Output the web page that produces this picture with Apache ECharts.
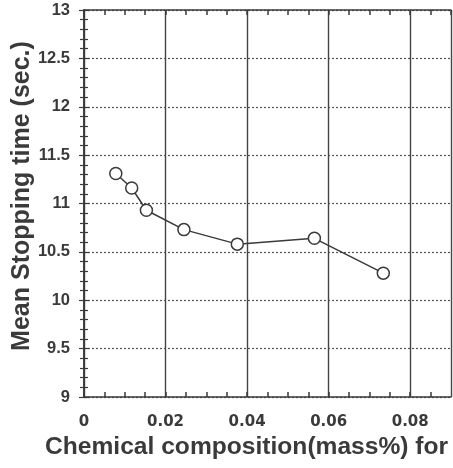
<!DOCTYPE html>
<html><head><meta charset="utf-8">
<script src="https://cdn.jsdelivr.net/npm/echarts@6/dist/echarts.min.js"></script>
<style>html,body{margin:0;padding:0;background:#fff}#c{width:453px;height:468px}</style>
</head><body><div id="c"></div>
<script>
const xValues = [0.0078, 0.0117, 0.0153, 0.0245, 0.0376, 0.0565, 0.0734];
const yValues = [11.31, 11.16, 10.93, 10.73, 10.58, 10.64, 10.28];
const xTickLabels = ['0', '0.02', '0.04', '0.06', '0.08'];
const yTickLabels = ['9', '9.5', '10', '10.5', '11', '11.5', '12', '12.5', '13'];
const xTitle = 'Chemical composition(mass%) for';
const yTitle = 'Mean Stopping time (sec.)';

const ink = '#3a3a3a';
const font = 'Liberation Sans, Arial, sans-serif';
function near(v, step){ return Math.abs(v/step - Math.round(v/step)) < 1e-6; }
function xLab(v){
  if (!near(v, 0.02)) return '';
  const i = Math.round(v/0.02);
  return xTickLabels[i] !== undefined ? xTickLabels[i] : '';
}
function yLab(v){
  if (!near(v, 0.5)) return '';
  const i = Math.round((v-9)/0.5);
  return yTickLabels[i] !== undefined ? yTickLabels[i] : '';
}
const chart = echarts.init(document.getElementById('c'), null, {renderer:'canvas'});
const fineX = {
  type:'value', min:0, max:0.09, interval:0.005,
  axisLine:{show:true, lineStyle:{color:ink, width:1.5}},
  axisTick:{show:true, inside:true, length:5, lineStyle:{color:ink, width:1.5}},
  splitLine:{show:false}
};
const yBase = {
  type:'value', min:9, max:13, interval:0.5,
  axisLine:{show:true, lineStyle:{color:ink, width:1.5}},
  axisTick:{show:true, inside:true, length:5, lineStyle:{color:ink, width:1.2}},
  minorTick:{show:true, splitNumber:5, length:4, lineStyle:{color:ink, width:1.2}}
};
chart.setOption({
  animation:false,
  grid:{left:84, right:2, top:10, bottom:71, containLabel:false},
  xAxis:[
    Object.assign({}, fineX, {position:'bottom',
      axisLabel:{show:true, formatter:xLab, color:ink, fontSize:15, fontWeight:'bold', fontFamily:'DejaVu Sans, sans-serif', margin:18, showMaxLabel:false}}),
    Object.assign({}, fineX, {position:'top', axisLabel:{show:false}}),
    {type:'value', min:0, max:0.09, interval:0.02, position:'bottom',
      axisLine:{show:false}, axisTick:{show:false}, axisLabel:{show:false},
      splitLine:{show:true, lineStyle:{color:'#444', width:1.4, type:'solid'}}}
  ],
  yAxis:[
    Object.assign({}, yBase, {position:'left',
      axisLabel:{show:true, formatter:yLab, color:ink, fontSize:16.5, fontWeight:'bold', fontFamily:font, margin:14},
      splitLine:{show:true, lineStyle:{color:'#555', width:1.2, type:[2,2]}}}),
    Object.assign({}, yBase, {position:'right', axisLabel:{show:false}, splitLine:{show:false}})
  ],
  graphic:[
    {type:'text', x:45, y:447, style:{text:xTitle, font:'bold 24.6px '+font, fill:ink, textVerticalAlign:'middle'}},
    {type:'text', x:22, y:196, rotation:Math.PI/2, style:{text:yTitle, font:'bold 25px '+font, fill:ink, textAlign:'center', textVerticalAlign:'middle'}}
  ],
  series:[{
    type:'line', xAxisIndex:0, yAxisIndex:0,
    data:xValues.map((x,i)=>[x, yValues[i]]),
    symbol:'circle', symbolSize:12,
    lineStyle:{color:ink, width:1.5},
    itemStyle:{color:'#fff', borderColor:ink, borderWidth:1.5}
  }]
});
</script></body></html>
